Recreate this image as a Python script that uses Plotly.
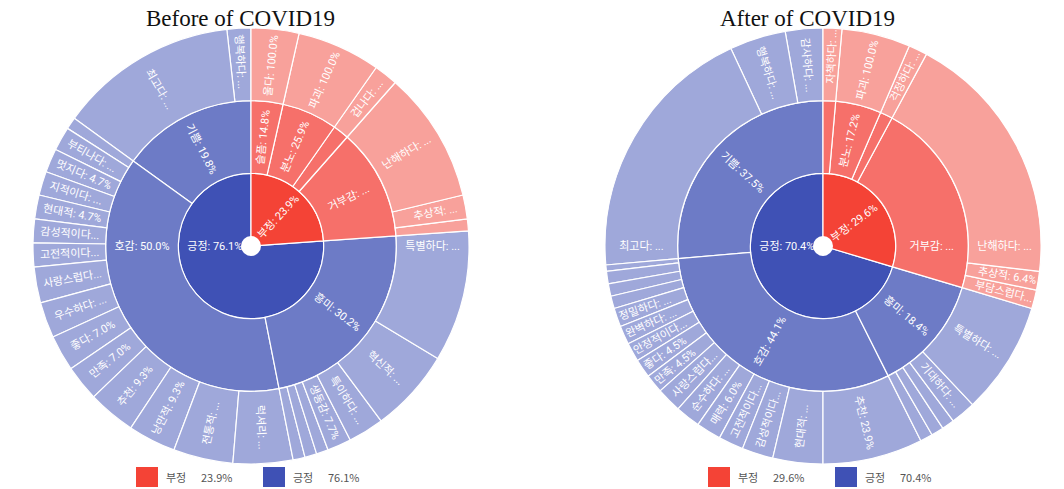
import plotly.graph_objects as go

W, H = 1064, 489

# ---------------- data: Before of COVID19 ----------------
b_roots = ["부정", "긍정"]
b_mid_labels = ["슬픔", "분노", "두려움", "거부감", "흥미", "호감", "기쁨"]
b_mid_parents = ["부정", "부정", "부정", "부정", "긍정", "긍정", "긍정"]
b_leaf_labels = ["울다", "파괴", "겁나다", "난해하다", "추상적", "부담스럽다",
                 "특별하다", "혁신적", "특이하다", "생동감", "신선하다", "새롭다", "독특하다",
                 "럭셔리", "전통적", "낭만적", "추천", "만족", "좋다", "우수하다", "사랑스럽다",
                 "고전적이다", "감성적이다", "현대적", "지적이다", "멋지다", "부티나다", "세련되다",
                 "최고다", "행복하다"]
b_leaf_parents = ["슬픔", "분노", "두려움", "거부감", "거부감", "거부감",
                  "흥미", "흥미", "흥미", "흥미", "흥미", "흥미", "흥미",
                  "호감", "호감", "호감", "호감", "호감", "호감", "호감", "호감",
                  "호감", "호감", "호감", "호감", "호감", "호감", "호감",
                  "기쁨", "기쁨"]
b_leaf_values = [4, 7, 2, 11, 2, 1,
                 11, 7, 3, 2, 1, 1, 1,
                 5, 5, 4, 4, 3, 3, 3, 3,
                 2, 2, 2, 2, 2, 2, 1,
                 15, 2]
b_cut_colon = ["최고다", "행복하다", "부티나다", "지적이다", "우수하다", "전통적", "럭셔리",
               "혁신적", "특이하다", "특별하다", "겁나다", "난해하다", "추상적", "거부감"]
b_cut_dots = ["감성적이다", "고전적이다", "사랑스럽다"]

# ---------------- data: After of COVID19 ----------------
a_roots = ["부정", "긍정"]
a_mid_labels = ["슬픔", "분노", "두려움", "거부감", "흥미", "호감", "기쁨"]
a_mid_parents = ["부정", "부정", "부정", "부정", "긍정", "긍정", "긍정"]
a_leaf_labels = ["자책하다", "파괴", "걱정하다", "난해하다", "추상적", "부담스럽다",
                 "특별하다", "기대하다", "신기하다", "새롭다", "독특하다",
                 "추천", "현대적", "감성적이다", "고전적이다", "매력", "순수하다", "사랑스럽다",
                 "만족", "좋다", "안정적이다", "완벽하다", "정밀하다",
                 "세련되다", "우아하다", "고급스럽다", "훌륭하다",
                 "최고다", "행복하다", "감사하다"]
a_leaf_parents = ["슬픔", "분노", "두려움", "거부감", "거부감", "거부감",
                  "흥미", "흥미", "흥미", "흥미", "흥미",
                  "호감", "호감", "호감", "호감", "호감", "호감", "호감",
                  "호감", "호감", "호감", "호감", "호감",
                  "호감", "호감", "호감", "호감",
                  "기쁨", "기쁨", "기쁨"]
a_leaf_values = [3, 11, 3, 41, 3, 3,
                 18, 4, 2, 2, 2,
                 16, 8, 5, 4, 4, 4, 4,
                 3, 3, 3, 3, 3,
                 2, 2, 2, 1,
                 42, 9, 6]
a_cut_colon = ["감사하다", "행복하다", "최고다", "자책하다", "걱정하다", "거부감", "난해하다",
               "특별하다", "기대하다", "현대적", "순수하다", "완벽하다", "정밀하다"]
a_cut_dots = ["부담스럽다", "감성적이다", "고전적이다", "사랑스럽다", "안정적이다"]

titles = ["Before of COVID19", "After of COVID19"]

# ---------------- styles ----------------
RED = ["#F44336", "#F6706A", "#F8A19B"]
BLUE = ["#3F51B5", "#6D7BC6", "#9FA8DA"]
FONT = "Noto Sans CJK KR"
SLICE_FONT = "Roboto, Noto Sans CJK KR"


def build(roots, mid_l, mid_p, leaf_l, leaf_p, leaf_v, cut_colon, cut_dots):
    labels = list(roots) + list(mid_l) + list(leaf_l)
    parents = [""] * len(roots) + list(mid_p) + list(leaf_p)
    values = [0] * (len(roots) + len(mid_l)) + list(leaf_v)
    pmap = dict(zip(labels, parents))
    colors, tmpl = [], []
    for lab in labels:
        d, top = 0, lab
        while pmap[top] != "":
            top = pmap[top]
            d += 1
        colors.append((RED if top == "부정" else BLUE)[d])
        if lab in cut_colon:
            tmpl.append("%{label}: ...")
        elif lab in cut_dots:
            tmpl.append("%{label}...")
        else:
            tmpl.append("%{label}: %{percentParent:.1%}")
    # plotly lays siblings counter-clockwise; reverse to get clockwise order
    r = slice(None, None, -1)
    return labels[r], parents[r], values[r], colors[r], tmpl[r]


centers = [(251, 246), (823, 246)]
title_x = [240, 807]
R = 218
datasets = [
    (b_roots, b_mid_labels, b_mid_parents, b_leaf_labels, b_leaf_parents, b_leaf_values, b_cut_colon, b_cut_dots),
    (a_roots, a_mid_labels, a_mid_parents, a_leaf_labels, a_leaf_parents, a_leaf_values, a_cut_colon, a_cut_dots),
]

fig = go.Figure()
shapes, annotations = [], []
for i, ds in enumerate(datasets):
    labels, parents, values, colors, tmpl = build(*ds)
    cx, cy = centers[i]
    fig.add_trace(go.Sunburst(
        ids=labels, labels=labels, parents=parents, values=values,
        branchvalues="remainder", sort=False, rotation=90,
        marker=dict(colors=colors, line=dict(color="white", width=1.2)),
        leaf=dict(opacity=1),
        texttemplate=tmpl, insidetextorientation="radial",
        insidetextfont=dict(family=SLICE_FONT, size=12, color="white"),
        hoverinfo="label+percent parent",
        domain=dict(x=[(cx - R) / W, (cx + R) / W],
                    y=[(H - cy - R) / H, (H - cy + R) / H]),
    ))
    # small white hole in the centre
    shapes.append(dict(type="circle", xref="paper", yref="paper", layer="above",
                       x0=(cx - 10) / W, x1=(cx + 10) / W,
                       y0=(H - cy - 10) / H, y1=(H - cy + 10) / H,
                       fillcolor="white", line=dict(width=0)))
    annotations.append(dict(text=titles[i], x=title_x[i] / W, y=(H - 19) / H, xref="paper", yref="paper",
                            showarrow=False, xanchor="center", yanchor="middle",
                            font=dict(family="Liberation Serif", size=23, color="#111111")))
    # legend
    tot = sum(ds[5])
    neg = sum(v for v, p in zip(ds[5], ds[4]) if ds[2][ds[1].index(p)] == "부정")
    pcts = [neg / tot * 100, (tot - neg) / tot * 100]
    lx = cx - 115
    for j, (name, col, pc) in enumerate(zip(ds[0], [RED[0], BLUE[0]], pcts)):
        x0 = lx + j * 127
        shapes.append(dict(type="rect", xref="paper", yref="paper",
                           x0=x0 / W, x1=(x0 + 22) / W, y0=(H - 487) / H, y1=(H - 467) / H,
                           fillcolor=col, line=dict(width=0)))
        annotations.append(dict(text=name, x=(x0 + 28) / W, y=(H - 477) / H, xref="paper", yref="paper",
                                showarrow=False, xanchor="left", yanchor="middle",
                                font=dict(family=FONT, size=11, color="#555555")))
        annotations.append(dict(text=f"{pc:.1f}%", x=(x0 + 63) / W, y=(H - 477) / H, xref="paper",
                                yref="paper", showarrow=False, xanchor="left", yanchor="middle",
                                font=dict(family=FONT, size=11, color="#555555")))

fig.update_layout(
    width=W, height=H, margin=dict(l=0, r=0, t=0, b=0),
    paper_bgcolor="white", plot_bgcolor="white",
    uniformtext=dict(minsize=10.5, mode="hide"),
    shapes=shapes, annotations=annotations,
    font=dict(family=FONT),
)
fig.write_html("out.html", config={"displayModeBar": False},
               post_script="document.body.style.margin='0';document.body.style.overflow='hidden';")
